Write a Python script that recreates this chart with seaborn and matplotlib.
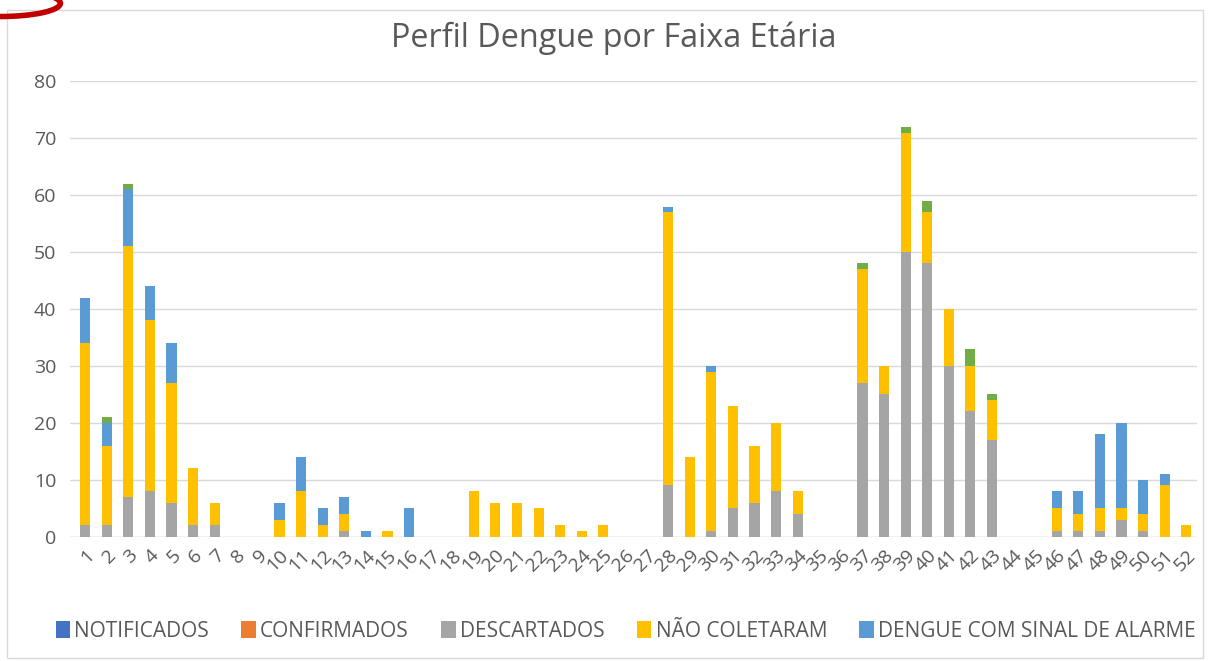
import pandas as pd
import matplotlib
matplotlib.use("Agg")
import matplotlib.pyplot as plt
from matplotlib.patches import Patch, Rectangle, Ellipse
import seaborn as sns

# Semanas epidemiológicas 1..52
semanas = list(range(1, 53))

notificados = [0] * 52
confirmados = [0] * 52
descartados = [2, 2, 7, 8, 6, 2, 2, 0, 0, 0,
               0, 0, 1, 0, 0, 0, 0, 0, 0, 0,
               0, 0, 0, 0, 0, 0, 0, 9, 0, 1,
               5, 6, 8, 4, 0, 0, 27, 25, 50, 48,
               30, 22, 17, 0, 0, 1, 1, 1, 3, 1,
               0, 0]
nao_coletaram = [32, 14, 44, 30, 21, 10, 4, 0, 0, 3,
                 8, 2, 3, 0, 1, 0, 0, 0, 8, 6,
                 6, 5, 2, 1, 2, 0, 0, 48, 14, 28,
                 18, 10, 12, 4, 0, 0, 20, 5, 21, 9,
                 10, 8, 7, 0, 0, 4, 3, 4, 2, 3,
                 9, 2]
sinal_alarme = [8, 4, 10, 6, 7, 0, 0, 0, 0, 3,
                6, 3, 3, 1, 0, 5, 0, 0, 0, 0,
                0, 0, 0, 0, 0, 0, 0, 1, 0, 1,
                0, 0, 0, 0, 0, 0, 0, 0, 0, 0,
                0, 0, 0, 0, 0, 3, 4, 13, 15, 6,
                2, 0]
# série verde (legenda cortada na imagem original)
outros = [0, 1, 1, 0, 0, 0, 0, 0, 0, 0,
          0, 0, 0, 0, 0, 0, 0, 0, 0, 0,
          0, 0, 0, 0, 0, 0, 0, 0, 0, 0,
          0, 0, 0, 0, 0, 0, 1, 0, 1, 2,
          0, 3, 1, 0, 0, 0, 0, 0, 0, 0,
          0, 0]

series = {
    "NOTIFICADOS": notificados,
    "CONFIRMADOS": confirmados,
    "DESCARTADOS": descartados,
    "NÃO COLETARAM": nao_coletaram,
    "DENGUE COM SINAL DE ALARME": sinal_alarme,
    "OUTROS": outros,
}
cores = {
    "NOTIFICADOS": "#4472C4",
    "CONFIRMADOS": "#ED7D31",
    "DESCARTADOS": "#A5A5A5",
    "NÃO COLETARAM": "#FFC000",
    "DENGUE COM SINAL DE ALARME": "#5B9BD5",
    "OUTROS": "#70AD47",
}

linhas = []
for nome, valores in series.items():
    for s, v in zip(semanas, valores):
        linhas.append({"semana": s, "serie": nome, "casos": v})
df = pd.DataFrame(linhas)

sns.set_theme(style="white")
plt.rcParams["font.family"] = ["Open Sans", "DejaVu Sans"]

fig = plt.figure(figsize=(12.08, 6.61), dpi=100)
ax = fig.add_axes([0.058, 0.188, 0.933, 0.689])

# histplot empilha na ordem inversa do hue_order
ordem = list(series.keys())[::-1]
sns.histplot(data=df, x="semana", weights="casos", hue="serie",
             hue_order=ordem, palette=cores, multiple="stack",
             discrete=True, shrink=0.47, alpha=1, linewidth=0,
             legend=False, ax=ax, zorder=3)

ax.set_xlim(0.3, 52.5)
ax.set_ylim(0, 80)
ax.set_yticks(range(0, 81, 10))
ax.set_xticks(semanas)
ax.set_xticklabels([str(s) for s in semanas], rotation=45, ha="right",
                   rotation_mode="anchor")
ax.tick_params(axis="both", colors="#595959", labelsize=14, length=0)
ax.tick_params(axis="y", pad=10)
ax.tick_params(axis="x", pad=7)
ax.yaxis.grid(True, color="#D9D9D9", linewidth=1)
ax.set_axisbelow(True)
for sp in ax.spines.values():
    sp.set_visible(False)
ax.axhline(0, color="#D9D9D9", linewidth=1, zorder=1)
ax.set_xlabel("")
ax.set_ylabel("")

fig.text(0.508, 0.942, "Perfil Dengue por Faixa Etária", ha="center",
         va="center", fontsize=23.3, color="#595959")

handles = [Patch(facecolor=cores[n], edgecolor="none", label=n)
           for n in list(series.keys())[:5]]
fig.legend(handles=handles, loc="center", bbox_to_anchor=(0.518, 0.045),
           ncol=5, frameon=False, fontsize=15, handlelength=0.7,
           handleheight=0.9, handletextpad=0.2, columnspacing=1.55,
           labelcolor="#595959")

fig.patches.append(Rectangle((0.006, 0.004), 0.99, 0.981,
                             transform=fig.transFigure, fill=False,
                             edgecolor="#D9D9D9", linewidth=1))
fig.patches.append(Ellipse((0.0, 0.995), 0.1, 0.04,
                           transform=fig.transFigure, fill=False,
                           edgecolor="#C00000", linewidth=4))

fig.savefig("out.png", dpi=100)
